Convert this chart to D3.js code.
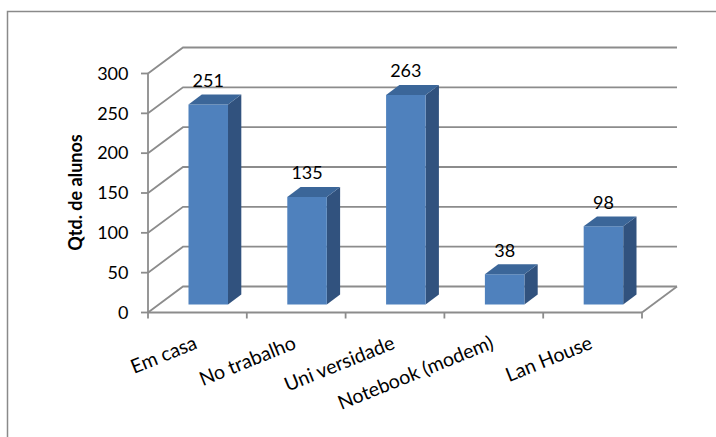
<!DOCTYPE html>
<html>
<head>
<meta charset="utf-8">
<script src="https://cdn.jsdelivr.net/npm/d3@7"></script>
<style>
  html, body { margin: 0; padding: 0; background: #fff; }
  svg { display: block; }
  text { font-family: Lato, "Open Sans", sans-serif; fill: #000; }
</style>
</head>
<body>
<svg id="chart" width="716" height="437"></svg>
<script>
// ---- data ----
const categories = ["Em casa", "No trabalho", "Uni versidade", "Notebook (modem)", "Lan House"];
const values = [251, 135, 263, 38, 98];
const yTicks = [0, 50, 100, 150, 200, 250, 300];
const yTitle = "Qtd. de alunos";

// ---- layout ----
const svg = d3.select("#chart");
const plotLeft = 148, plotRight = 642;
const depth = { dx: 35, dy: -26 };
const barFront = 0.31, barBack = 0.69;

const x = d3.scaleBand().domain(categories).range([plotLeft, plotRight]).paddingInner(0.6).paddingOuter(0.3);
const y = d3.scaleLinear().domain([0, 300]).range([312.5, 73.5]);
const xCenter = d3.scalePoint().domain(categories).range([plotLeft, plotRight]).padding(0.5);

const P = (px, py, f) => [px + f * depth.dx, py + f * depth.dy];
const gridColor = "#8c8c8c";

// frame
svg.append("rect").attr("x", 7.5).attr("y", 11.5).attr("width", 730).attr("height", 450)
  .attr("fill", "none").attr("stroke", "#8a8a8a").attr("stroke-width", 1.5);

// gridlines: left wall + back wall
const g = svg.append("g");
yTicks.forEach(v => {
  const a = [plotLeft, y(v)];
  const b = P(plotLeft, y(v), 1);
  const c = P(plotRight, y(v), 1);
  g.append("path").attr("d", d3.line()([a, b, c]))
    .attr("fill", "none").attr("stroke", gridColor).attr("stroke-width", 1.8);
});
// floor right edge
g.append("path").attr("d", d3.line()([[plotRight, y(0)], P(plotRight, y(0), 1)]))
  .attr("fill", "none").attr("stroke", gridColor).attr("stroke-width", 1.8);

// bars
const bars = svg.append("g");
categories.forEach((cat, i) => {
  const v = values[i];
  const x0 = x(cat), x1 = x(cat) + x.bandwidth();
  const yb = y(0), yt = y(v);
  const fl = P(x0, yb, barFront), fr = P(x1, yb, barFront);
  const tl = P(x0, yt, barFront), tr = P(x1, yt, barFront);
  const btl = P(x0, yt, barBack), btr = P(x1, yt, barBack);
  const bbr = P(x1, yb, barBack);
  bars.append("path").attr("d", d3.line()([fr, tr, btr, bbr]) + "Z").attr("fill", "#31527e");
  bars.append("path").attr("d", d3.line()([fl, tl, tr, fr]) + "Z").attr("fill", "#4f81bd");
  bars.append("path").attr("d", d3.line()([tl, btl, btr, tr]) + "Z").attr("fill", "#3b6699");
  bars.append("text").attr("x", (tl[0] + tr[0]) / 2).attr("y", tl[1] - 17.5)
    .attr("text-anchor", "middle").attr("font-size", 18).text(v);
});

// y axis
const ya = svg.append("g");
ya.append("line").attr("x1", plotLeft).attr("x2", plotLeft).attr("y1", y(0)).attr("y2", y(300))
  .attr("stroke", gridColor).attr("stroke-width", 1.8);
yTicks.forEach(v => {
  ya.append("line").attr("x1", plotLeft - 7).attr("x2", plotLeft).attr("y1", y(v)).attr("y2", y(v))
    .attr("stroke", gridColor).attr("stroke-width", 1.8);
  ya.append("text").attr("x", 128.5).attr("y", y(v)).attr("dy", "0.35em")
    .attr("text-anchor", "end").attr("font-size", 18).text(v);
});

// x axis
const xa = svg.append("g");
xa.append("line").attr("x1", plotLeft).attr("x2", plotRight).attr("y1", y(0)).attr("y2", y(0))
  .attr("stroke", gridColor).attr("stroke-width", 1.8);
const step = x.step();
d3.range(categories.length + 1).forEach(k => {
  const tx = plotLeft + k * step;
  xa.append("line").attr("x1", tx).attr("x2", tx).attr("y1", y(0)).attr("y2", y(0) + 6)
    .attr("stroke", gridColor).attr("stroke-width", 1.8);
});
categories.forEach(cat => {
  xa.append("text").attr("transform", `translate(${xCenter(cat) + 1},348) rotate(-22)`)
    .attr("text-anchor", "end").attr("font-size", 19.6).text(cat);
});

// y title
svg.append("text").attr("transform", "translate(82,192.5) rotate(-90)")
  .attr("text-anchor", "middle").attr("font-size", 18).attr("font-weight", "bold").text(yTitle);
</script>
</body>
</html>
